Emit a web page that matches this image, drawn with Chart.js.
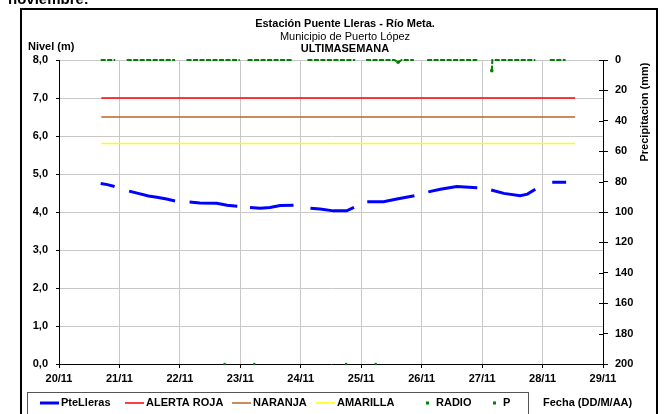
<!DOCTYPE html>
<html>
<head>
<meta charset="utf-8">
<script src="https://cdn.jsdelivr.net/npm/chart.js@4"></script>
<style>
  body { margin: 0; background: #fff; }
  canvas { display: block; }
</style>
</head>
<body>
<canvas id="chart" width="671" height="414"></canvas>
<script>
const FONT = "'Liberation Sans', Arial, sans-serif";

// x values are days counted from 20/11 00:00
const dayLabels = ['20/11', '21/11', '22/11', '23/11', '24/11', '25/11', '26/11', '27/11', '28/11', '29/11'];

// nivel PteLleras (m), null = no data at night
const levelDays = [
  0.69, 0.80, 0.92, 1.04,
  1.16, 1.31, 1.48, 1.62, 1.78, 1.92, 2.04,
  2.16, 2.33, 2.61, 2.78, 2.95, 3.06,
  3.16, 3.33, 3.49, 3.66, 3.88, 4.02,
  4.16, 4.32, 4.54, 4.76, 4.88, 5.00,
  5.10, 5.37, 5.59, 5.88, 6.00,
  6.11, 6.31, 6.58, 6.92, 7.04,
  7.15, 7.36, 7.63, 7.75, 7.88, 8.02,
  8.16, 8.39
];
const levelValues = [
  4.75, 4.72, 4.67, null,
  4.55, 4.49, 4.42, 4.39, 4.34, 4.29, null,
  4.26, 4.24, 4.23, 4.18, 4.15, null,
  4.12, 4.10, 4.12, 4.17, 4.18, null,
  4.10, 4.08, 4.03, 4.03, 4.12, null,
  4.27, 4.27, 4.34, 4.43, null,
  4.53, 4.60, 4.67, 4.64, null,
  4.58, 4.49, 4.43, 4.47, 4.60, null,
  4.78, 4.78
];

// umbrales de alerta (m)
const alertDays = [0.70, 8.54];
const alertaRoja = [7.0, 7.0];
const naranja = [6.5, 6.5];
const amarilla = [5.8, 5.8];

// RADIO (eje nivel)
const radioDays = [2.74, 3.23, 4.75, 5.24];
const radioValues = [0, 0, 0, 0];

// P precipitacion (mm, eje derecho invertido)
const pDays = [
  0.69, 0.93, 1.02,
  1.12, 1.92, 2.02,
  2.11, 2.99, 3.05,
  3.12, 3.87, 4.00,
  4.11, 4.90, 5.00,
  5.08, 5.55, 5.61, 5.67, 5.87, 6.00,
  6.09, 6.92, 7.05,
  7.16, 7.17, 7.88, 8.00,
  8.12, 8.38
];
const pValues = [
  0, 0, null,
  0, 0, null,
  0, 0, null,
  0, 0, null,
  0, 0, null,
  0, 0, 1.5, 0, 0, null,
  0, 0, null,
  7, 0, 0, null,
  0, 0
];

function pts(xs, ys) {
  return xs.map((x, i) => ({ x: x, y: ys[i] }));
}

const tickFont = { family: FONT, size: 11, weight: 'bold' };
const gridGrey = '#c8c8c8';

// titles, frame and legend drawn around the plot
const decor = {
  id: 'decor',
  afterDraw(chart) {
    const ctx = chart.ctx;
    ctx.save();
    ctx.fillStyle = '#000';

    ctx.font = 'bold 15px ' + FONT;
    ctx.textAlign = 'left';
    ctx.textBaseline = 'alphabetic';
    ctx.fillText('noviembre:', 8, 4);

    ctx.strokeStyle = '#000';
    ctx.lineWidth = 2;
    ctx.strokeRect(21, 9, 636, 412);

    ctx.textAlign = 'center';
    ctx.textBaseline = 'middle';
    ctx.font = 'bold 11px ' + FONT;
    ctx.fillText('Estación Puente Lleras - Río Meta.', 345, 24);
    ctx.font = '11px ' + FONT;
    ctx.fillText('Municipio de Puerto López', 345, 37);
    ctx.font = 'bold 11px ' + FONT;
    ctx.fillText('ULTIMASEMANA', 345, 49);

    ctx.textAlign = 'left';
    ctx.fillText('Nivel (m)', 28, 47);
    ctx.fillText('Fecha (DD/M/AA)', 543, 403);

    ctx.save();
    ctx.translate(645, 112);
    ctx.rotate(-Math.PI / 2);
    ctx.textAlign = 'center';
    ctx.fillText('Precipitacion (mm)', 0, 0);
    ctx.restore();

    // right axis ticks also cross into the plot
    const y1 = chart.scales.y1;
    const right = chart.chartArea.right;
    ctx.strokeStyle = '#000';
    ctx.lineWidth = 1;
    y1.ticks.forEach(t => {
      const py = Math.round(y1.getPixelForValue(t.value)) + 0.5;
      ctx.beginPath();
      ctx.moveTo(right - 4, py);
      ctx.lineTo(right, py);
      ctx.stroke();
    });

    // legend box
    ctx.strokeStyle = '#555';
    ctx.lineWidth = 1;
    ctx.strokeRect(27.5, 392.5, 501, 24);

    const items = [
      { ds: 0, x: 40, kind: 'line' },
      { ds: 1, x: 125, kind: 'line' },
      { ds: 2, x: 232, kind: 'line' },
      { ds: 3, x: 316, kind: 'line' },
      { ds: 4, x: 419, kind: 'dot' },
      { ds: 5, x: 486, kind: 'dot' }
    ];
    const ly = 403;
    items.forEach(it => {
      const d = chart.data.datasets[it.ds];
      if (it.kind === 'line') {
        ctx.strokeStyle = d.borderColor;
        ctx.lineWidth = it.ds === 0 ? 3 : 1.5;
        ctx.beginPath();
        ctx.moveTo(it.x, ly);
        ctx.lineTo(it.x + 19, ly);
        ctx.stroke();
      } else {
        ctx.fillStyle = '#008000';
        ctx.fillRect(it.x + 7, ly - 1.5, 3, 3);
      }
      ctx.fillStyle = '#000';
      ctx.fillText(d.label, it.x + (it.kind === 'line' ? 21 : 17), ly);
    });
    ctx.restore();
  }
};

Chart.defaults.font.family = FONT;
Chart.defaults.color = '#000';

new Chart(document.getElementById('chart'), {
  type: 'line',
  data: {
    datasets: [
      {
        label: 'PteLleras',
        data: pts(levelDays, levelValues),
        borderColor: '#0000ff',
        borderWidth: 3,
        pointRadius: 0,
        spanGaps: false,
        yAxisID: 'y'
      },
      {
        label: 'ALERTA ROJA',
        data: pts(alertDays, alertaRoja),
        borderColor: '#ff0000',
        borderWidth: 1.5,
        pointRadius: 0,
        yAxisID: 'y'
      },
      {
        label: 'NARANJA',
        data: pts(alertDays, naranja),
        borderColor: '#b8642a',
        borderWidth: 1.5,
        pointRadius: 0,
        yAxisID: 'y'
      },
      {
        label: 'AMARILLA',
        data: pts(alertDays, amarilla),
        borderColor: '#ffff00',
        borderWidth: 1.5,
        pointRadius: 0,
        yAxisID: 'y'
      },
      {
        label: 'RADIO',
        data: pts(radioDays, radioValues),
        showLine: false,
        pointStyle: 'rect',
        pointRadius: 1.6,
        pointBackgroundColor: '#008000',
        pointBorderWidth: 0,
        borderColor: '#008000',
        clip: false,
        yAxisID: 'y'
      },
      {
        label: 'P',
        data: pts(pDays, pValues),
        borderColor: '#008000',
        borderWidth: 2,
        borderDash: [5, 1.5],
        pointRadius: ctx => (ctx.raw && ctx.raw.y > 0 ? 1.8 : 0),
        pointBackgroundColor: '#008000',
        pointBorderWidth: 0,
        spanGaps: false,
        clip: false,
        yAxisID: 'y1'
      }
    ]
  },
  options: {
    responsive: false,
    animation: false,
    layout: { padding: { top: 60, left: 0, right: 0, bottom: 0 } },
    plugins: {
      legend: { display: false },
      title: { display: false },
      tooltip: { enabled: false }
    },
    scales: {
      x: {
        type: 'linear',
        min: 0,
        max: 9,
        ticks: {
          stepSize: 1,
          autoSkip: false,
          maxRotation: 0,
          padding: 4,
          font: tickFont,
          callback: v => dayLabels[v]
        },
        grid: { color: gridGrey, tickColor: '#000', tickLength: 4 },
        border: { color: '#000' },
        afterFit: s => { s.height = 50; }
      },
      y: {
        position: 'left',
        min: 0,
        max: 8,
        ticks: {
          stepSize: 1,
          padding: 8,
          font: tickFont,
          callback: v => v.toFixed(1).replace('.', ',')
        },
        grid: { color: gridGrey, tickColor: '#000', tickLength: 3 },
        border: { color: '#000' },
        afterFit: s => { s.width = 59; }
      },
      y1: {
        position: 'right',
        reverse: true,
        min: 0,
        max: 200,
        ticks: { stepSize: 20, padding: 7, font: tickFont },
        grid: { drawOnChartArea: false, tickColor: '#000', tickLength: 5 },
        border: { color: '#000' },
        afterFit: s => { s.width = 68; }
      }
    }
  },
  plugins: [decor]
});
</script>
</body>
</html>
